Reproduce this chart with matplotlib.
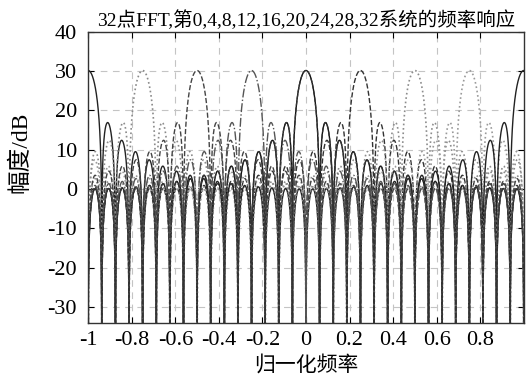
import numpy as np
import matplotlib
matplotlib.use("Agg")
import matplotlib.pyplot as plt

plt.rcParams['font.family'] = ['Liberation Serif', 'Noto Sans CJK SC']
plt.rcParams['axes.unicode_minus'] = False

# 32-point FFT, channel numbers shown in the chart
N = 32
channels = [0, 4, 8, 12, 16, 20, 24, 28, 32]
nfft = 4096

xticks = [-1, -0.8, -0.6, -0.4, -0.2, 0, 0.2, 0.4, 0.6, 0.8]
xtick_labels = ['-1', '-0.8', '-0.6', '-0.4', '-0.2', '0', '0.2', '0.4', '0.6', '0.8']
yticks = [-30, -20, -10, 0, 10, 20, 30, 40]

title = '32点FFT,第0,4,8,12,16,20,24,28,32系统的频率响应'
xlabel = '归一化频率'
ylabel = '幅度/dB'

# grey-print look of the original coloured lines
styles = {
    0:  dict(color='#111111', ls='-',  lw=1.0),
    4:  dict(color='#333333', ls='--', lw=1.0),
    8:  dict(color='#8c8c8c', ls=':',  lw=1.2),
    12: dict(color='#9a9a9a', ls=':',  lw=1.2),
    16: dict(color='#222222', ls='-',  lw=1.0),
    20: dict(color='#8a8a8a', ls=':',  lw=1.2),
    24: dict(color='#444444', ls='--', lw=1.0),
    28: dict(color='#555555', ls='-.', lw=1.0),
    32: dict(color='#333333', ls='--', lw=0.9),
}

n = np.arange(N)
w = np.fft.fftshift(np.fft.fftfreq(nfft)) * 2  # normalized freq, -1..1
w = np.append(w, 1.0)

fig = plt.figure(figsize=(5.28, 3.76), dpi=100)
ax = fig.add_axes([0.167, 0.142, 0.825, 0.774])

for k in channels:
    h = np.exp(1j * 2 * np.pi * k * n / N)
    H = np.fft.fftshift(np.fft.fft(h, nfft))
    H = np.append(H, H[0])
    mag = 20 * np.log10(np.abs(H) + 1e-9)
    ax.plot(w, mag, **styles[k])

ax.set_xlim(-1, 1)
ax.set_ylim(-34, 40)
ax.set_xticks(xticks)
ax.set_xticklabels(xtick_labels)
ax.set_yticks(yticks)
ax.tick_params(direction='in', labelsize=16, length=4, top=True, right=True)
ax.tick_params(axis='x', pad=6)
ax.tick_params(axis='y', pad=8)
ax.grid(True, ls=(0, (6, 5)), color='#c4c4c4', lw=0.8)
for s in ax.spines.values():
    s.set_linewidth(1.0)
    s.set_color('#333333')

ax.set_title(title, fontsize=14, pad=4)
ax.set_xlabel(xlabel, fontsize=15)
ax.set_ylabel(ylabel, fontsize=17)
ax.xaxis.set_label_coords(0.5, -0.113)
ax.yaxis.set_label_coords(-0.13, 0.585)

fig.savefig('out.png', dpi=100)
